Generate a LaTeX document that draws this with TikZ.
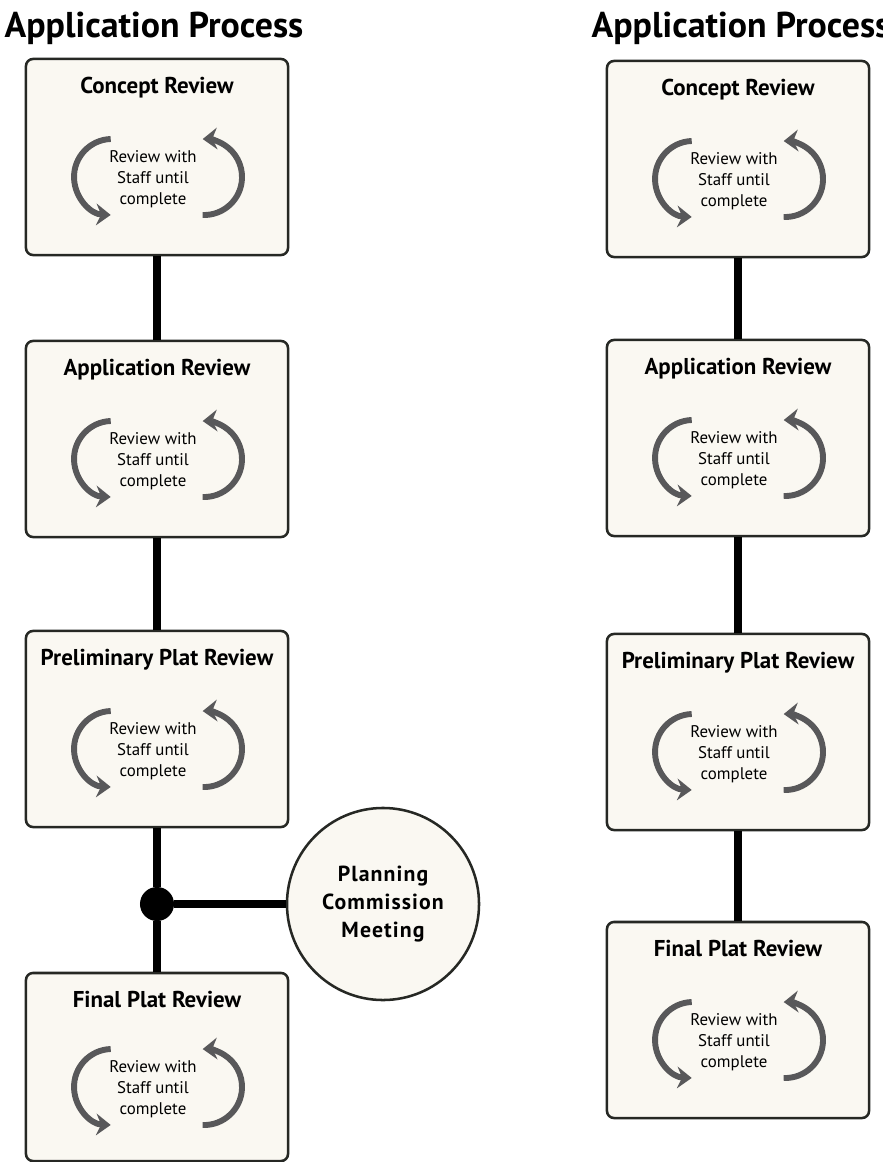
\documentclass[tikz,border=0pt]{standalone}
\usepackage{fontspec}
\setmainfont{PT Sans}
\newfontfamily\meetingfont[LetterSpace=5]{PT Sans}
\usetikzlibrary{arrows.meta,calc,positioning}

\definecolor{boxfill}{RGB}{250,248,242}
\definecolor{boxline}{RGB}{38,40,36}
\definecolor{loopgray}{RGB}{88,88,90}

\begin{document}
\begin{tikzpicture}
[
  x=0.025cm, y=0.025cm,
  >=Stealth,
  stage/.style = {draw=boxline, fill=boxfill, line width=1.8pt, rounded corners=5pt, minimum width=6.55cm, minimum height=4.9cm, inner sep=0pt},
  stagetitle/.style = {anchor=north, yshift=-0.36cm, font=\fontsize{16.3}{19}\selectfont\bfseries},
  heading/.style = {font=\fontsize{25.5}{30}\selectfont\bfseries},
  loopnote/.style = {align=center, font=\fontsize{12}{15}\selectfont},
  reviewloop/.style = {draw=loopgray, line width=4.2pt, -{Stealth[length=3.6mm,width=5.4mm,inset=1.2mm]}},
  link/.style = {line width=5pt, black},
  junction/.style = {circle, fill=black, minimum size=0.85cm, inner sep=0pt},
  meeting/.style = {circle, draw=boxline, fill=boxfill, line width=1.8pt, minimum size=4.8cm, align=center, font=\meetingfont\fontsize{15.5}{20}\selectfont\bfseries},
]

\useasboundingbox (0,0) rectangle (882,-1162);

\node[heading] (H1) at (154,-28) {Application Process};
\node[heading] (H2) at (741,-28) {Application Process};

% left column
\node (C1) at (157,-157) [stage, label = {[stagetitle]north:Concept Review}] {};
\node (A1) at (157,-439) [stage, label = {[stagetitle]north:Application Review}] {};
\node (P1) at (157,-729) [stage, label = {[stagetitle]north:Preliminary Plat Review}] {};
\node (F1) at (157,-1067) [stage, minimum height=4.7cm, label = {[stagetitle]north:Final Plat Review}] {};

\node (J) at (157,-904) [junction] {};
\node (M) at (383,-904) [meeting] {Planning\\Commission\\Meeting};

% right column
\node (C2) at (738,-159) [stage, label = {[stagetitle]north:Concept Review}] {};
\node (A2) at (738,-438) [stage, label = {[stagetitle]north:Application Review}] {};
\node (P2) at (738,-732) [stage, label = {[stagetitle]north:Preliminary Plat Review}] {};
\node (F2) at (738,-1020) [stage, label = {[stagetitle]north:Final Plat Review}] {};

\draw[link] (C1) -- (A1) -- (P1) -- (J) -- (F1);
\draw[link] (J) -- (M);
\draw[link] (C2) -- (A2) -- (P2) -- (F2);

\foreach \s in {C1,A1,P1,F1,C2,A2,P2,F2}{
  \node (\s-note) at ($(\s.center)+(-4,-22)$) [loopnote] {Review with\\Staff until\\complete};
  \draw[reviewloop] ($(\s.center)+(-46.3,18)$) arc[start angle=92, end angle=268, radius=38];
  \draw[reviewloop] ($(\s.center)+(45.7,-58)$) arc[start angle=268, end angle=452, radius=38];
}

\end{tikzpicture}
\end{document}
